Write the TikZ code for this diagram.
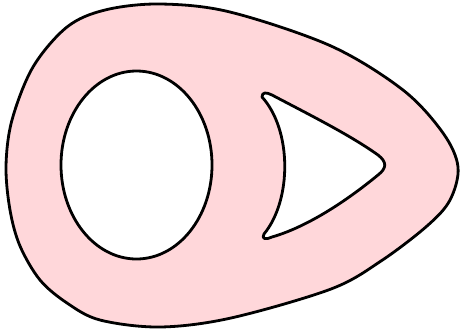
\documentclass[tikz,border=0pt]{standalone}
\definecolor{shapepink}{RGB}{255,215,218}
\tikzset{ring/.style={fill=shapepink, draw=black, line width=2.8pt, even odd rule, line join=round}}
\begin{document}
\begin{tikzpicture}[x=1pt,y=-1pt]
\useasboundingbox (0,0) rectangle (462,333);
\fill[white] (0,0) rectangle (462,333);
\path[ring]
  plot[smooth cycle, tension=0.55] coordinates {(6,166) (12,120) (33,67) (67,27) (105,10) (160,4) (230,12) (331,46) (403,90) (443,133) (458,167) (450,200) (427,226) (381,261) (331,289) (231,318) (160,327) (100,320) (67,303) (40,280) (20,246) (10,210)}
  (136.5,165) ellipse [x radius=75.5, y radius=94]
  (262,97) .. controls (262,92) and (266,92) .. (272,95)
  .. controls (310,115) and (350,135) .. (378,155)
  .. controls (387,162) and (387,168) .. (378,175)
  .. controls (350,198) and (310,226) .. (272,237)
  .. controls (266,240) and (261,239) .. (264,234)
  .. controls (292,200) and (292,130) .. (262,97) -- cycle;
\end{tikzpicture}
\end{document}
